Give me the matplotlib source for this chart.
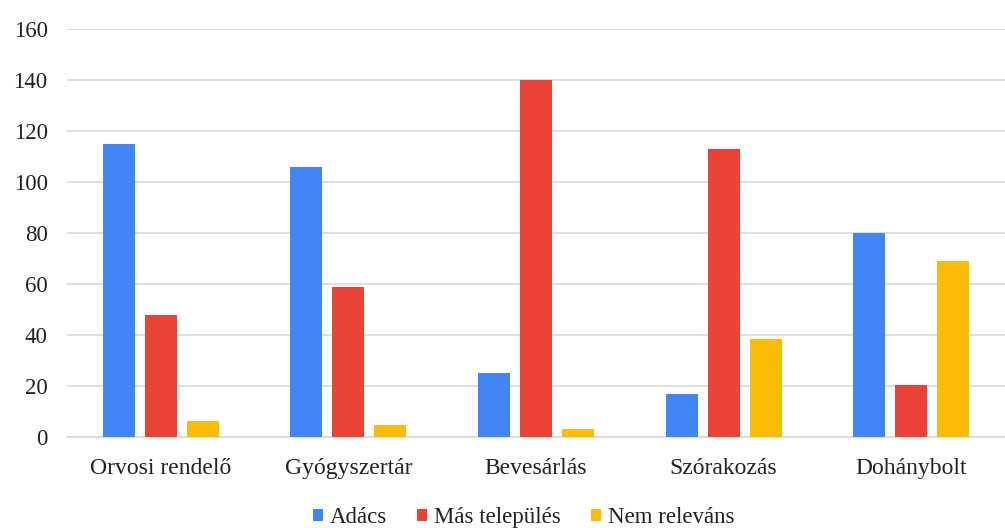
import matplotlib
matplotlib.use("Agg")
import matplotlib.pyplot as plt
import numpy as np

categories = ["Orvosi rendelő", "Gyógyszertár", "Bevesárlás", "Szórakozás", "Dohánybolt"]
series_names = ["Adács", "Más település", "Nem releváns"]
adacs = [115, 106, 25, 17, 80]
mas = [48, 59, 140, 113, 20.5]
nem = [6.3, 4.7, 3.3, 38.6, 69]
colors = ["#4285F4", "#EA4335", "#FBBC04"]

plt.rcParams['font.family'] = 'serif'
plt.rcParams['font.serif'] = ['Liberation Serif', 'Times New Roman', 'DejaVu Serif']

fig = plt.figure(figsize=(10.05, 5.28), dpi=100)
ax = fig.add_axes([67/1005, 1 - 437/528, (1005-67)/1005, (437-29)/528])

x = np.arange(len(categories))
w = 0.17
off = 0.224
for i, (vals, name) in enumerate(zip([adacs, mas, nem], series_names)):
    ax.bar(x + (i - 1) * off, vals, width=w, color=colors[i], label=name, zorder=3)

ax.set_xlim(-0.5, len(categories) - 0.5)
ax.set_ylim(0, 160)
ax.set_yticks(range(0, 161, 20))
ax.set_xticks(x)
ax.set_xticklabels(categories)
ax.grid(axis='y', color='#d9d9d9', linewidth=1.2, zorder=0)
for s in ['top', 'right', 'left']:
    ax.spines[s].set_visible(False)
ax.spines['bottom'].set_color('#d9d9d9')
ax.spines['bottom'].set_linewidth(1.2)
ax.tick_params(axis='both', length=0, colors='#222222')
ax.tick_params(axis='x', pad=15, labelsize=17)
ax.tick_params(axis='y', pad=14, labelsize=16.5)

leg = fig.legend(loc='center', bbox_to_anchor=(0.521, 0.019), ncol=3, frameon=False,
                 fontsize=16.5, handlelength=0.45, handleheight=0.45, handletextpad=0.3,
                 columnspacing=1.3, borderpad=0)
for t in leg.get_texts():
    t.set_color('#222222')

fig.savefig("out.png", dpi=100)
